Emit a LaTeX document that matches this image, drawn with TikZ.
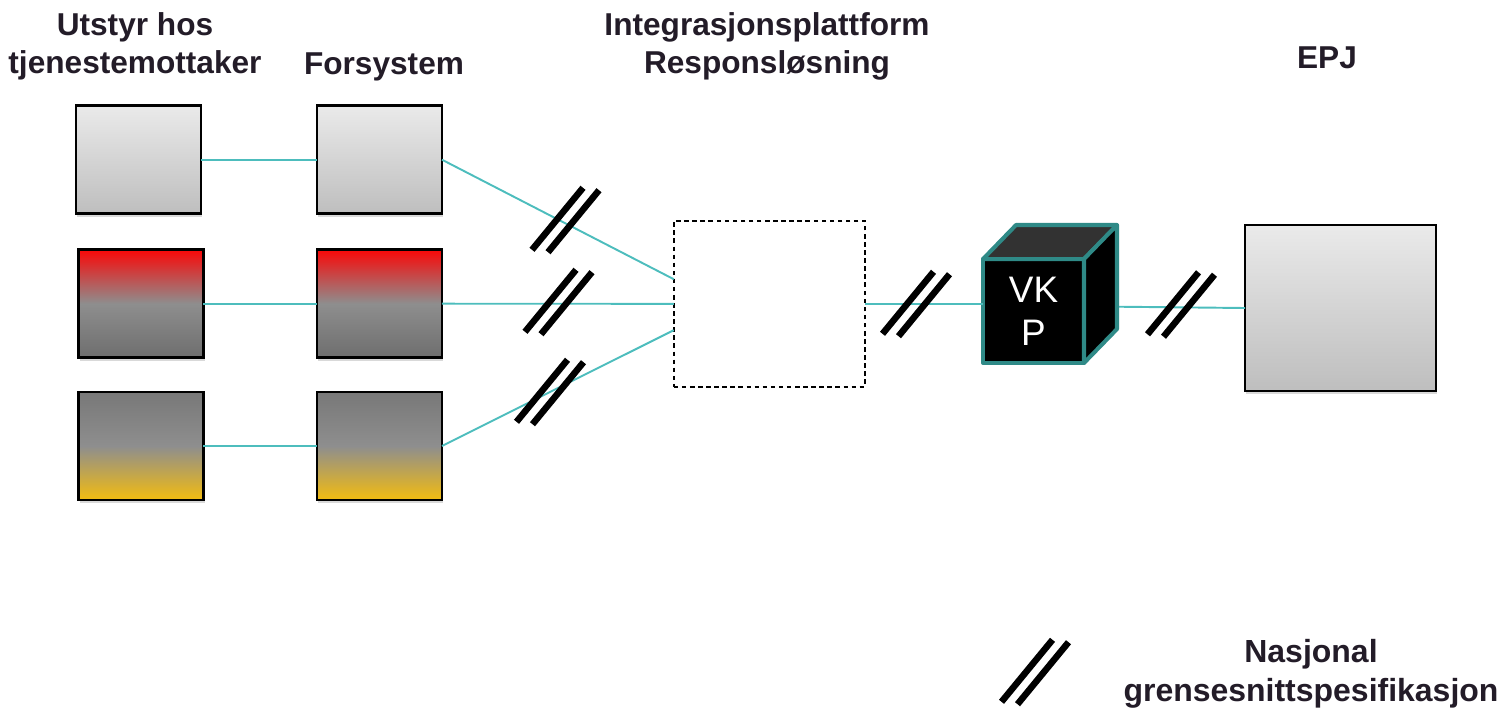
\documentclass[tikz,border=0pt]{standalone}
\usepackage{fontspec}
\setmainfont{Liberation Sans}
\usetikzlibrary{positioning,shadows}

\definecolor{linje}{RGB}{77,189,189}
\definecolor{kant}{RGB}{47,138,135}
\definecolor{tekst}{RGB}{35,28,40}
\definecolor{grtopp}{RGB}{234,234,234}
\definecolor{grbunn}{RGB}{190,190,190}
\definecolor{rodtopp}{RGB}{250,8,8}
\definecolor{midtgra}{RGB}{142,142,142}
\definecolor{morkgra}{RGB}{110,110,110}
\definecolor{gultopp}{RGB}{120,120,120}
\definecolor{gulbunn}{RGB}{243,188,16}
\definecolor{kubetopp}{RGB}{50,50,50}

\tikzset{grensesnitt/.pic={
  \draw[black,line width=3.7pt] (-33.5,-29.8) -- (17.5,32.2);
  \draw[black,line width=3.7pt] (-17.5,-32.2) -- (33.5,29.8);
}}

\begin{document}
\begin{tikzpicture}[x=0.02cm, y=0.02cm]
    \tikzstyle{every node}+=[inner sep=0pt, outer sep=0pt]
    \tikzstyle{boks}=[draw=black, line width=1.4pt, minimum width=2.5cm, minimum height=2.16cm,
        drop shadow={opacity=0.3, shadow xshift=0.6pt, shadow yshift=-1.6pt}]
    \tikzstyle{gra}=[boks, top color=grtopp, bottom color=grbunn]
    \tikzstyle{rod}=[boks, top color=rodtopp, bottom color=morkgra, middle color=midtgra]
    \tikzstyle{gul}=[boks, top color=gultopp, bottom color=gulbunn, middle color=midtgra]
    \tikzstyle{tittel}=[text=tekst, font=\bfseries\fontsize{18}{21.5}\selectfont, align=center]
    \tikzstyle{kobling}=[draw=linje, line width=1.1pt]
    \tikzstyle{flate}=[draw=kant, line width=2.3pt, line join=round]
    \useasboundingbox (0,0) rectangle (1501,-708);
    % titler
    \node[tittel, anchor=north] (utstyr) at (135,-13) {Utstyr hos\\tjenestemottaker};
    \node[tittel, anchor=base] (forsystem) at (384,-74) {Forsystem};
    \node[tittel, anchor=north] (plattformtekst) at (767,-13) {Integrasjonsplattform\\Responsløsning};
    \node[tittel, anchor=base] (epjtekst) at (1327,-68) {EPJ};
    % bokser
    \node[gra] (u1) at (138.5,-159.7) {};
    \node[gra] (f1) at (379.5,-159.7) {};
    \node[rod] (u2) at (141,-303.7) {};
    \node[rod] (f2) at (379.5,-303.7) {};
    \node[gul] (u3) at (141,-446) {};
    \node[gul] (f3) at (379.5,-446) {};
    \node[draw=black, fill=white, line width=1.1pt, dash pattern=on 2.6pt off 2pt,
        minimum width=3.83cm, minimum height=3.31cm] (plattform) at (769.5,-303.8) {};
    \node[gra, minimum width=3.82cm, minimum height=3.32cm] (epj) at (1340.5,-308) {};
    \node[flate, fill=black, text=white, font=\fontsize{21}{24.5}\selectfont, align=center,
        minimum width=2.02cm, minimum height=2.08cm] (vkp) at (1033.5,-311) {VK\\P};
    \coordinate (vkpside) at (1117,-306.7);
    % koblinger
    \draw[kobling] (u1.east) -- (f1.west);
    \draw[kobling] (u2.east) -- (f2.west);
    \draw[kobling] (u3.east) -- (f3.west);
    \draw[kobling] (f1.east) -- ([yshift=14pt]plattform.west);
    \draw[kobling] (f2.east) -- (plattform.west);
    \draw[kobling] (f3.east) -- ([yshift=-15pt]plattform.west);
    \draw[kobling] (plattform.east) -- (plattform.east -| vkp.west);
    \draw[kobling] (vkpside) -- (epj.west);
    % kube
    \draw[flate, fill=kubetopp] (vkp.north west) -- ++(33,34) -- ++(101,0) -- (vkp.north east) -- cycle;
    \draw[flate, fill=black] (vkp.north east) -- ++(33,34) -- ++(0,-104) -- (vkp.south east) -- cycle;
    % grensesnitt
    \pic at (565.5,-220) {grensesnitt};
    \pic at (558.5,-302) {grensesnitt};
    \pic at (550,-392) {grensesnitt};
    \pic at (916,-304) {grensesnitt};
    \pic at (1181,-304.5) {grensesnitt};
    % forklaring
    \pic at (1035,-672) {grensesnitt};
    \node[tittel, anchor=north, font=\bfseries\fontsize{18.2}{22.5}\selectfont] (forklaring) at (1311,-639) {Nasjonal\\grensesnittspesifikasjon};
\end{tikzpicture}
\end{document}
